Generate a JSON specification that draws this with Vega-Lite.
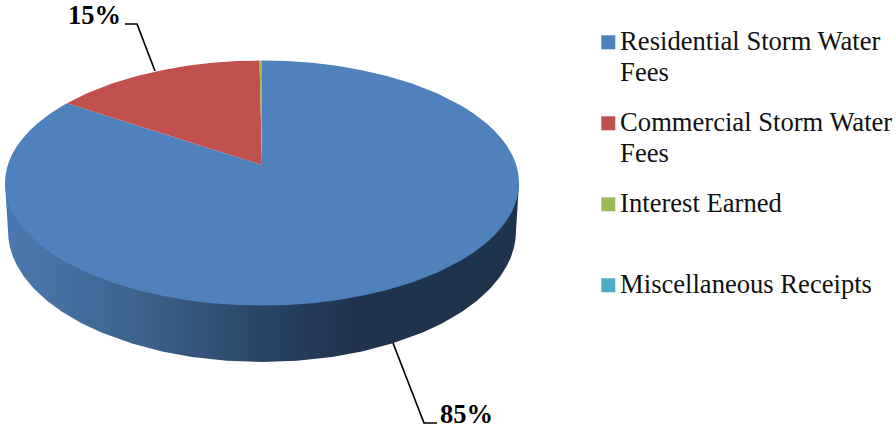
{
  "$schema": "https://vega.github.io/schema/vega-lite/v6.json",
  "width": 896,
  "height": 428,
  "padding": 0,
  "autosize": {"type": "none"},
  "background": "white",
  "view": {"stroke": null},
  "config": {
    "font": "Liberation Serif",
    "style": {"guide-label": {"lineHeight": 31}}
  },
  "datasets": {
    "slices": [
      {"slice": "Residential Storm Water Fees", "x": -257, "top": 0, "bottom": 0},
      {"slice": "Residential Storm Water Fees", "x": -256.5, "top": 7.6, "bottom": -7.6},
      {"slice": "Residential Storm Water Fees", "x": -255, "top": 15.2, "bottom": -15.2},
      {"slice": "Residential Storm Water Fees", "x": -253, "top": 21.5, "bottom": -21.5},
      {"slice": "Residential Storm Water Fees", "x": -250, "top": 28.4, "bottom": -28.4},
      {"slice": "Residential Storm Water Fees", "x": -245, "top": 37, "bottom": -37},
      {"slice": "Residential Storm Water Fees", "x": -240, "top": 43.8, "bottom": -43.8},
      {"slice": "Residential Storm Water Fees", "x": -232, "top": 52.7, "bottom": -52.7},
      {"slice": "Residential Storm Water Fees", "x": -225, "top": 59.2, "bottom": -59.2},
      {"slice": "Residential Storm Water Fees", "x": -212, "top": 69.2, "bottom": -69.2},
      {"slice": "Residential Storm Water Fees", "x": -200, "top": 76.9, "bottom": -76.9},
      {"slice": "Residential Storm Water Fees", "x": -195, "top": 79.8, "bottom": -79.8},
      {"slice": "Residential Storm Water Fees", "x": -175, "top": 73.5, "bottom": -89.7},
      {"slice": "Residential Storm Water Fees", "x": -150, "top": 65.5, "bottom": -99.5},
      {"slice": "Residential Storm Water Fees", "x": -125, "top": 57.6, "bottom": -107},
      {"slice": "Residential Storm Water Fees", "x": -100, "top": 49.7, "bottom": -112.8},
      {"slice": "Residential Storm Water Fees", "x": -75, "top": 41.8, "bottom": -117.2},
      {"slice": "Residential Storm Water Fees", "x": -50, "top": 33.8, "bottom": -120.2},
      {"slice": "Residential Storm Water Fees", "x": -25, "top": 25.9, "bottom": -121.9},
      {"slice": "Residential Storm Water Fees", "x": 0, "top": 18, "bottom": -122.5},
      {"slice": "Residential Storm Water Fees", "x": 0.01, "top": 122.5, "bottom": -122.5},
      {"slice": "Residential Storm Water Fees", "x": 25, "top": 121.9, "bottom": -121.9},
      {"slice": "Residential Storm Water Fees", "x": 50, "top": 120.2, "bottom": -120.2},
      {"slice": "Residential Storm Water Fees", "x": 75, "top": 117.2, "bottom": -117.2},
      {"slice": "Residential Storm Water Fees", "x": 100, "top": 112.8, "bottom": -112.8},
      {"slice": "Residential Storm Water Fees", "x": 125, "top": 107, "bottom": -107},
      {"slice": "Residential Storm Water Fees", "x": 150, "top": 99.5, "bottom": -99.5},
      {"slice": "Residential Storm Water Fees", "x": 175, "top": 89.7, "bottom": -89.7},
      {"slice": "Residential Storm Water Fees", "x": 200, "top": 76.9, "bottom": -76.9},
      {"slice": "Residential Storm Water Fees", "x": 212, "top": 69.2, "bottom": -69.2},
      {"slice": "Residential Storm Water Fees", "x": 225, "top": 59.2, "bottom": -59.2},
      {"slice": "Residential Storm Water Fees", "x": 232, "top": 52.7, "bottom": -52.7},
      {"slice": "Residential Storm Water Fees", "x": 240, "top": 43.8, "bottom": -43.8},
      {"slice": "Residential Storm Water Fees", "x": 245, "top": 37, "bottom": -37},
      {"slice": "Residential Storm Water Fees", "x": 250, "top": 28.4, "bottom": -28.4},
      {"slice": "Residential Storm Water Fees", "x": 253, "top": 21.5, "bottom": -21.5},
      {"slice": "Residential Storm Water Fees", "x": 255, "top": 15.2, "bottom": -15.2},
      {"slice": "Residential Storm Water Fees", "x": 256.5, "top": 7.6, "bottom": -7.6},
      {"slice": "Residential Storm Water Fees", "x": 257, "top": 0, "bottom": 0},
      {"slice": "Commercial Storm Water Fees", "x": -195, "top": 79.8, "bottom": 79.8},
      {"slice": "Commercial Storm Water Fees", "x": -175, "top": 89.7, "bottom": 73.5},
      {"slice": "Commercial Storm Water Fees", "x": -150, "top": 99.5, "bottom": 65.5},
      {"slice": "Commercial Storm Water Fees", "x": -125, "top": 107, "bottom": 57.6},
      {"slice": "Commercial Storm Water Fees", "x": -100, "top": 112.8, "bottom": 49.7},
      {"slice": "Commercial Storm Water Fees", "x": -75, "top": 117.2, "bottom": 41.8},
      {"slice": "Commercial Storm Water Fees", "x": -50, "top": 120.2, "bottom": 33.8},
      {"slice": "Commercial Storm Water Fees", "x": -25, "top": 121.9, "bottom": 25.9},
      {"slice": "Commercial Storm Water Fees", "x": -2.5, "top": 122.4, "bottom": 18.8},
      {"slice": "Commercial Storm Water Fees", "x": 0, "top": 18, "bottom": 18},
      {"slice": "Interest Earned", "x": -2.5, "top": 122.4, "bottom": 122.4},
      {"slice": "Interest Earned", "x": 0, "top": 122.5, "bottom": 18}
    ],
    "wall": [
      {"x": -257, "top": 0, "bottom": 0},
      {"x": -254, "top": 0, "bottom": -48},
      {"x": -253.5, "top": 0, "bottom": -56.2},
      {"x": -252, "top": 0, "bottom": -64.4},
      {"x": -249, "top": 0, "bottom": -73.9},
      {"x": -245, "top": 0, "bottom": -82.6},
      {"x": -238, "top": 0, "bottom": -93.8},
      {"x": -228, "top": 0, "bottom": -105.7},
      {"x": -215, "top": 0, "bottom": -117.8},
      {"x": -200, "top": 0, "bottom": -128.8},
      {"x": -180, "top": 0, "bottom": -140.4},
      {"x": -160, "top": 0, "bottom": -149.7},
      {"x": -130, "top": 0, "bottom": -160.5},
      {"x": -100, "top": 0, "bottom": -168.4},
      {"x": -70, "top": 0, "bottom": -173.9},
      {"x": -35, "top": 0, "bottom": -177.8},
      {"x": 0, "top": 0, "bottom": -179},
      {"x": 35, "top": 0, "bottom": -177.8},
      {"x": 70, "top": 0, "bottom": -173.9},
      {"x": 100, "top": 0, "bottom": -168.4},
      {"x": 130, "top": 0, "bottom": -160.5},
      {"x": 160, "top": 0, "bottom": -149.7},
      {"x": 180, "top": 0, "bottom": -140.4},
      {"x": 200, "top": 0, "bottom": -128.8},
      {"x": 215, "top": 0, "bottom": -117.8},
      {"x": 228, "top": 0, "bottom": -105.7},
      {"x": 238, "top": 0, "bottom": -93.8},
      {"x": 245, "top": 0, "bottom": -82.6},
      {"x": 249, "top": 0, "bottom": -73.9},
      {"x": 252, "top": 0, "bottom": -64.4},
      {"x": 253.5, "top": 0, "bottom": -56.2},
      {"x": 254, "top": 0, "bottom": -48},
      {"x": 257, "top": 0, "bottom": 0}
    ],
    "leaders": [
      {"leader": "commercial", "step": 1, "x": -137, "y": 159},
      {"leader": "commercial", "step": 2, "x": -125, "y": 159},
      {"leader": "commercial", "step": 3, "x": -107, "y": 112},
      {"leader": "residential", "step": 1, "x": 131, "y": -160},
      {"leader": "residential", "step": 2, "x": 162, "y": -240},
      {"leader": "residential", "step": 3, "x": 175, "y": -240}
    ],
    "labels": [
      {"text": "15%", "x": -194, "y": 159},
      {"text": "85%", "x": 178, "y": -240}
    ]
  },
  "layer": [
    {
      "data": {"name": "leaders"},
      "mark": {"type": "line", "color": "black", "strokeWidth": 1.7},
      "encoding": {
        "x": {"field": "x", "type": "quantitative", "scale": {"domain": [-262, 634], "nice": false, "zero": false}, "axis": null},
        "y": {"field": "y", "type": "quantitative", "scale": {"domain": [-245, 183], "nice": false, "zero": false}, "axis": null},
        "detail": {"field": "leader"},
        "order": {"field": "step"}
      }
    },
    {
      "data": {"name": "wall"},
      "mark": {
        "type": "area",
        "interpolate": "linear",
        "color": {
          "gradient": "linear",
          "x1": 0, "x2": 1, "y1": 0, "y2": 0,
          "stops": [
            {"offset": 0, "color": "#4a79b0"},
            {"offset": 0.25, "color": "#3e648f"},
            {"offset": 0.5, "color": "#2a4464"},
            {"offset": 0.68, "color": "#1f334d"},
            {"offset": 1, "color": "#1f334d"}
          ]
        }
      },
      "encoding": {
        "x": {"field": "x", "type": "quantitative", "axis": null},
        "y": {"field": "top", "type": "quantitative", "axis": null},
        "y2": {"field": "bottom"}
      }
    },
    {
      "data": {"name": "slices"},
      "mark": {"type": "area", "interpolate": "linear"},
      "encoding": {
        "x": {"field": "x", "type": "quantitative", "axis": null},
        "y": {"field": "top", "type": "quantitative", "axis": null},
        "y2": {"field": "bottom"},
        "color": {
          "field": "slice",
          "type": "nominal",
          "scale": {
            "domain": ["Residential Storm Water Fees", "Commercial Storm Water Fees", "Interest Earned", "Miscellaneous Receipts"],
            "range": ["#4f81bd", "#c0504d", "#9bbb59", "#4bacc6"]
          },
          "legend": {
            "title": null,
            "orient": "none",
            "legendX": 595,
            "legendY": 29,
            "padding": 0,
            "symbolType": "square",
            "symbolSize": 196,
            "symbolStrokeWidth": 0,
            "symbolOpacity": 1,
            "rowPadding": 23,
            "labelFont": "Liberation Serif",
            "labelFontSize": 26.6,
            "labelColor": "#111111",
            "labelLimit": 400,
            "labelOffset": -1.5,
            "labelBaseline": "middle",
            "labelExpr": "indexof(datum.label, 'Water') >= 0 ? split(replace(datum.label, ' Water ', ' Water|'), '|') : split(datum.label + '| ', '|')"
          }
        }
      }
    },
    {
      "data": {"name": "labels"},
      "mark": {"type": "text", "align": "left", "baseline": "alphabetic", "font": "Liberation Serif", "fontWeight": "bold", "fontSize": 26.5, "color": "black"},
      "encoding": {
        "x": {"field": "x", "type": "quantitative", "axis": null},
        "y": {"field": "y", "type": "quantitative", "axis": null},
        "text": {"field": "text"}
      }
    }
  ]
}
